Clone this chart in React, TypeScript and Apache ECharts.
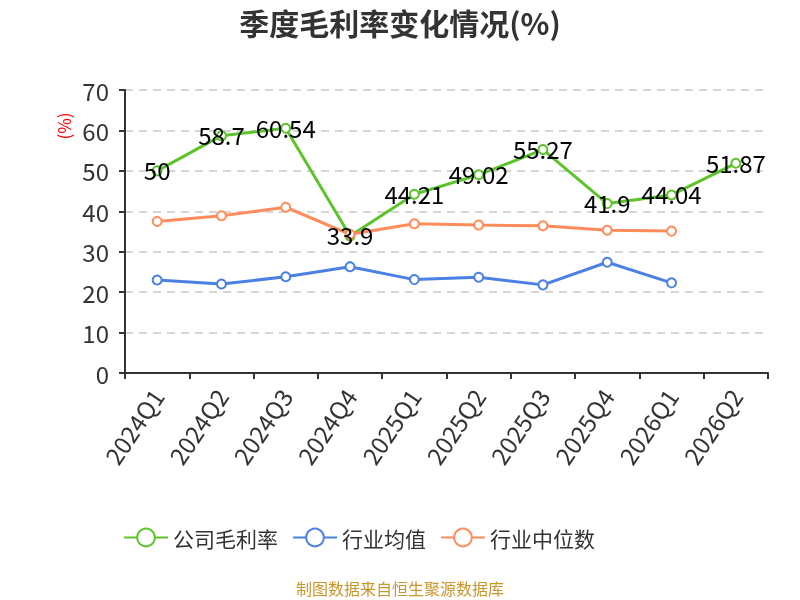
import React, { useEffect, useRef } from "react";
import * as echarts from "echarts";

const categories = ["2024Q1", "2024Q2", "2024Q3", "2024Q4", "2025Q1", "2025Q2", "2025Q3", "2025Q4", "2026Q1", "2026Q2"];
const companyMargin = [50, 58.7, 60.54, 33.9, 44.21, 49.02, 55.27, 41.9, 44.04, 51.87];
const industryAvg = [23.0, 22.0, 23.8, 26.3, 23.1, 23.7, 21.8, 27.4, 22.3];
const industryMedian = [37.5, 38.9, 41.0, 34.3, 36.9, 36.6, 36.4, 35.3, 35.1];

export default function App() {
  const ref = useRef<HTMLDivElement>(null);
  useEffect(() => {
    const chart = echarts.init(ref.current!, null, { renderer: "svg" });
    const font = "'Noto Sans CJK SC', 'Noto Sans', sans-serif";
    const mk = (name: string, data: number[], color: string, label: boolean) => ({
      name,
      type: "line",
      data,
      symbol: "emptyCircle",
      symbolSize: 9,
      lineStyle: { width: 3, color },
      itemStyle: { color, borderWidth: 2 },
      label: label
        ? { show: true, position: "inside", fontSize: 24, color: "#000", fontFamily: font, offset: [0, -1] }
        : { show: false },
    });
    chart.setOption({
      animation: false,
      textStyle: { fontFamily: font },
      title: {
        text: "季度毛利率变化情况(%)",
        left: "center",
        top: 2,
        textStyle: { fontSize: 30, fontWeight: "bold", color: "#333", fontFamily: font },
      },
      legend: {
        top: 522,
        left: 118,
        itemWidth: 44,
        itemHeight: 22,
        itemGap: 14,
        textStyle: { fontSize: 21, color: "#333", fontFamily: font },
        data: ["公司毛利率", "行业均值", "行业中位数"],
      },
      grid: { left: 125, right: 32, top: 90, bottom: 227 },
      xAxis: {
        type: "category",
        data: categories,
        boundaryGap: true,
        axisLine: { lineStyle: { color: "#333", width: 2 } },
        axisTick: { show: true, length: 6, lineStyle: { color: "#333", width: 2 } },
        axisLabel: { rotate: 56, fontSize: 24, color: "#333", margin: 18, fontFamily: font },
      },
      yAxis: {
        type: "value",
        min: 0,
        max: 70,
        interval: 10,
        axisLine: { show: true, lineStyle: { color: "#333", width: 2 } },
        axisTick: { show: true, length: 6, lineStyle: { color: "#333", width: 2 } },
        axisLabel: { fontSize: 24, color: "#333", margin: 16, fontFamily: font },
        splitLine: { lineStyle: { type: [8, 6], color: "#c8c8c8", width: 1.5 } },
      },
      graphic: [
        {
          type: "text",
          x: 63,
          y: 126,
          rotation: Math.PI / 2,
          style: { text: "(%)", fill: "#ff0000", fontSize: 17, fontFamily: font, align: "center", verticalAlign: "middle" },
        },
        {
          type: "text",
          left: "center",
          top: 580,
          style: { text: "制图数据来自恒生聚源数据库", fill: "#c9962e", fontSize: 16, fontFamily: font },
        },
      ],
      series: [
        mk("公司毛利率", companyMargin, "#5cc42a", true),
        mk("行业均值", industryAvg, "#4b80e4", false),
        mk("行业中位数", industryMedian, "#ff8c5a", false),
      ],
    });
    return () => chart.dispose();
  }, []);
  return <div ref={ref} style={{ position: "fixed", left: 0, top: 0, width: 800, height: 600 }} />;
}
